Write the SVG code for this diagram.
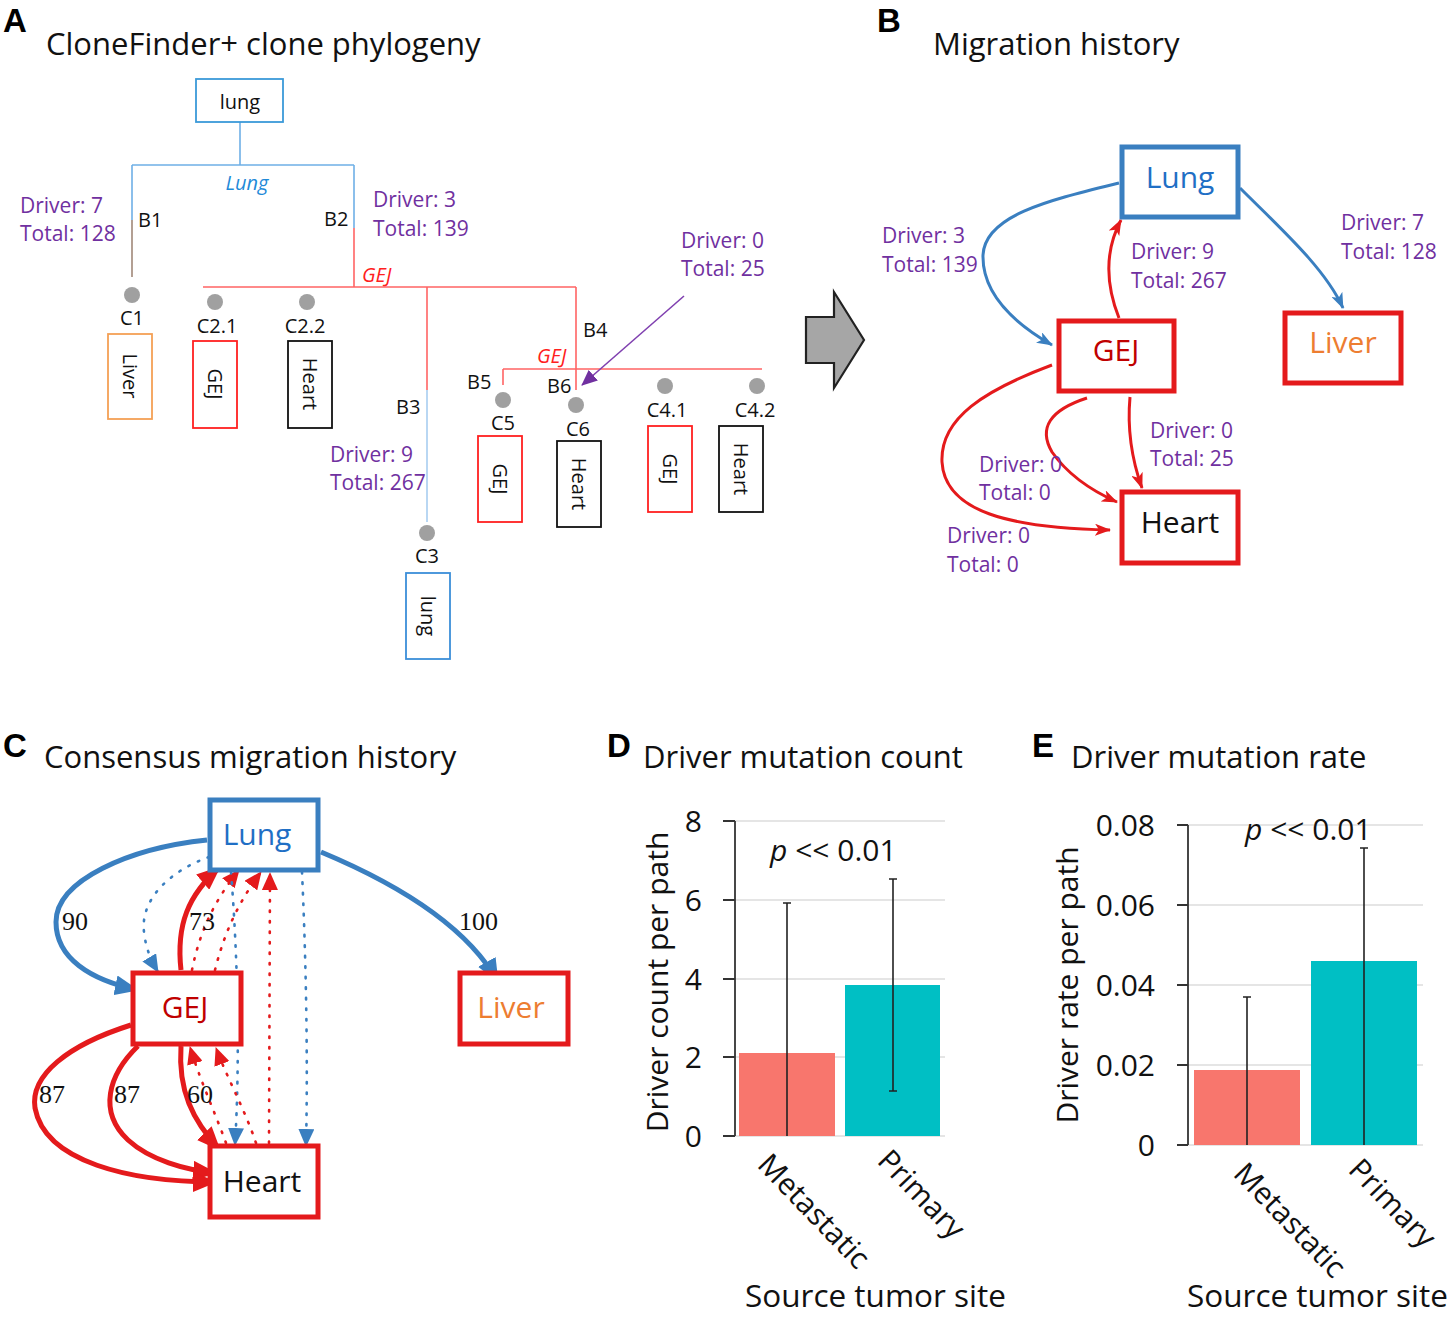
<svg xmlns="http://www.w3.org/2000/svg" width="1452" height="1318" viewBox="0 0 1452 1318">
<style>
text{font-family:'Open Sans','Liberation Sans',sans-serif;}
.L{font-family:'Liberation Sans',Arial,sans-serif;font-weight:bold;font-size:33px;fill:#000;}
.ttl{font-size:31px;fill:#111;}
.pl{font-size:21px;fill:#7030a0;}
.bl{font-size:20px;fill:#111;}
.bx{font-size:20px;fill:#111;}
.tb{fill:none;stroke-width:1.8;}
.tl{fill:none;stroke-width:1.6;}
.dot{fill:#a0a0a0;}
.nb{fill:#fff;stroke-width:5;}
.nt{font-size:30px;text-anchor:middle;}
.eB{fill:none;stroke-width:3;}
.eC{fill:none;stroke-width:5;}
.dC{fill:none;stroke-width:2.6;stroke-dasharray:1.5 9;stroke-linecap:round;}
.num{font-family:'Liberation Serif','Times New Roman',serif;font-size:26px;fill:#111;}
.ax{stroke:#333;stroke-width:1.8;fill:none;}
.gr{stroke:#ddd;stroke-width:1.6;}
.tk{font-size:30px;fill:#111;text-anchor:end;}
.eb{stroke:#222;stroke-width:1.6;fill:none;}
.cl{font-size:30px;fill:#111;}
.src{font-size:31.5px;fill:#111;}
</style>
<defs>
<marker id="aBb" markerUnits="userSpaceOnUse" markerWidth="16" markerHeight="12" viewBox="0 0 16 12" refX="15" refY="6" orient="auto"><path d="M0,0 L16,6 L0,12 L4,6 z" fill="#3a7fc0"/></marker>
<marker id="aBr" markerUnits="userSpaceOnUse" markerWidth="16" markerHeight="12" viewBox="0 0 16 12" refX="15" refY="6" orient="auto"><path d="M0,0 L16,6 L0,12 L4,6 z" fill="#e41a1c"/></marker>
<marker id="aCb" markerUnits="userSpaceOnUse" markerWidth="24" markerHeight="20" viewBox="0 0 24 20" refX="23" refY="10" orient="auto"><path d="M0,0 L24,10 L0,20 z" fill="#3a7fc0"/></marker>
<marker id="aCr" markerUnits="userSpaceOnUse" markerWidth="24" markerHeight="20" viewBox="0 0 24 20" refX="23" refY="10" orient="auto"><path d="M0,0 L24,10 L0,20 z" fill="#e41a1c"/></marker>
<marker id="aCbs" markerUnits="userSpaceOnUse" markerWidth="18" markerHeight="16" viewBox="0 0 18 16" refX="17" refY="8" orient="auto"><path d="M0,0 L18,8 L0,16 z" fill="#3a7fc0"/></marker>
<marker id="aCrs" markerUnits="userSpaceOnUse" markerWidth="18" markerHeight="16" viewBox="0 0 18 16" refX="17" refY="8" orient="auto"><path d="M0,0 L18,8 L0,16 z" fill="#e41a1c"/></marker>
<marker id="aP" markerUnits="userSpaceOnUse" markerWidth="16" markerHeight="14" viewBox="0 0 16 14" refX="15" refY="7" orient="auto"><path d="M0,0 L16,7 L0,14 z" fill="#7030a0"/></marker>
</defs>
<rect width="1452" height="1318" fill="#fff"/>

<!-- Panel letters and titles -->
<text class="L" x="3" y="32">A</text>
<text class="ttl" x="46" y="55">CloneFinder+ clone phylogeny</text>
<text class="L" x="877" y="32">B</text>
<text class="ttl" x="933" y="55">Migration history</text>
<text class="L" x="3" y="757">C</text>
<text class="ttl" x="44" y="768">Consensus migration history</text>
<text class="L" x="607" y="757">D</text>
<text class="ttl" x="643" y="768">Driver mutation count</text>
<text class="L" x="1032" y="757">E</text>
<text class="ttl" x="1071" y="768">Driver mutation rate</text>

<!-- Panel A: tree connectors -->
<g id="tree-connectors">
<path class="tl" stroke="#6fb0e6" d="M240,122 V165 M132,165 H354 M132,165 V220 M354,165 V228"/>
<path class="tl" stroke="#a08878" d="M132,220 V277"/>
<path class="tl" stroke="#ff6464" d="M354,228 V287 M203,287 H576 M576,287 V390 M427,287 V390 M503,369 H762 M503,369 V385"/>
<path class="tl" stroke="#a8cdf0" d="M427,390 V522"/>
<path stroke="#8040b0" stroke-width="1.6" fill="none" d="M684,296 L582,385" marker-end="url(#aP)"/>
</g>
<g id="tree-labels">
<text x="247" y="190" font-size="20" font-style="italic" fill="#1f8ad8" text-anchor="middle">Lung</text>
<text x="362" y="282" font-size="20" font-style="italic" fill="#ff2020">GEJ</text>
<text x="537" y="363" font-size="20" font-style="italic" fill="#ff2020">GEJ</text>
<text class="bl" x="138" y="227">B1</text>
<text class="bl" x="324" y="226">B2</text>
<text class="bl" x="396" y="414">B3</text>
<text class="bl" x="583" y="337">B4</text>
<text class="bl" x="467" y="389">B5</text>
<text class="bl" x="547" y="393">B6</text>
<text class="pl" x="20" y="213">Driver: 7</text>
<text class="pl" x="20" y="241">Total: 128</text>
<text class="pl" x="373" y="207">Driver: 3</text>
<text class="pl" x="373" y="236">Total: 139</text>
<text class="pl" x="330" y="462">Driver: 9</text>
<text class="pl" x="330" y="490">Total: 267</text>
<text class="pl" x="681" y="248">Driver: 0</text>
<text class="pl" x="681" y="276">Total: 25</text>
</g>
<g id="root-lung"><rect class="tb" stroke="#3b9ad9" x="196" y="79" width="87" height="43"/><text class="bx" x="240" y="109" text-anchor="middle">lung</text></g>
<g id="C1"><circle class="dot" cx="132" cy="295" r="8"/><text class="bl" x="132" y="325" text-anchor="middle">C1</text><rect class="tb" stroke="#f4a055" x="108" y="334" width="44" height="85"/><text class="bx" transform="translate(130,376) rotate(90)" text-anchor="middle" dy="0.35em">Liver</text></g>
<g id="C2.1"><circle class="dot" cx="215" cy="302" r="8"/><text class="bl" x="217" y="333" text-anchor="middle">C2.1</text><rect class="tb" stroke="#ff2020" x="193" y="341" width="44" height="87"/><text class="bx" transform="translate(215,384) rotate(90)" text-anchor="middle" dy="0.35em">GEJ</text></g>
<g id="C2.2"><circle class="dot" cx="307" cy="302" r="8"/><text class="bl" x="305" y="333" text-anchor="middle">C2.2</text><rect class="tb" stroke="#111" x="288" y="341" width="44" height="87"/><text class="bx" transform="translate(310,384) rotate(90)" text-anchor="middle" dy="0.35em">Heart</text></g>
<g id="C3"><circle class="dot" cx="427" cy="533" r="8"/><text class="bl" x="427" y="563" text-anchor="middle">C3</text><rect class="tb" stroke="#3b8ed9" x="406" y="573" width="44" height="86"/><text class="bx" transform="translate(428,616) rotate(90)" text-anchor="middle" dy="0.35em">lung</text></g>
<g id="C5"><circle class="dot" cx="503" cy="400" r="8"/><text class="bl" x="503" y="430" text-anchor="middle">C5</text><rect class="tb" stroke="#ff2020" x="478" y="436" width="44" height="86"/><text class="bx" transform="translate(500,479) rotate(90)" text-anchor="middle" dy="0.35em">GEJ</text></g>
<g id="C6"><circle class="dot" cx="576" cy="405" r="8"/><text class="bl" x="578" y="436" text-anchor="middle">C6</text><rect class="tb" stroke="#111" x="557" y="441" width="44" height="86"/><text class="bx" transform="translate(579,484) rotate(90)" text-anchor="middle" dy="0.35em">Heart</text></g>
<g id="C4.1"><circle class="dot" cx="665" cy="386" r="8"/><text class="bl" x="667" y="417" text-anchor="middle">C4.1</text><rect class="tb" stroke="#ff2020" x="648" y="426" width="44" height="86"/><text class="bx" transform="translate(670,469) rotate(90)" text-anchor="middle" dy="0.35em">GEJ</text></g>
<g id="C4.2"><circle class="dot" cx="757" cy="386" r="8"/><text class="bl" x="755" y="417" text-anchor="middle">C4.2</text><rect class="tb" stroke="#111" x="719" y="426" width="44" height="86"/><text class="bx" transform="translate(741,469) rotate(90)" text-anchor="middle" dy="0.35em">Heart</text></g>

<!-- big gray arrow -->
<g id="block-arrow"><polygon points="806,317 834,317 834,292 864,340 834,388 834,363 806,363" fill="#a6a6a6" stroke="#222" stroke-width="2.2" stroke-linejoin="miter"/></g>

<!-- Panel B connectors -->
<g id="B-connectors">
<path class="eB" stroke="#3a7fc0" d="M1119,183 C1050,200 985,215 983,255 C982,292 1012,322 1052,345" marker-end="url(#aBb)"/>
<path class="eB" stroke="#3a7fc0" d="M1240,188 C1280,228 1325,268 1343,308" marker-end="url(#aBb)"/>
<path class="eB" stroke="#e41a1c" d="M1119,318 C1106,285 1104,252 1121,220" marker-end="url(#aBr)"/>
<path class="eB" stroke="#e41a1c" d="M1130,397 C1127,430 1132,460 1142,488" marker-end="url(#aBr)"/>
<path class="eB" stroke="#e41a1c" d="M1087,398 C1050,410 1038,428 1052,452 C1068,475 1090,490 1117,502" marker-end="url(#aBr)"/>
<path class="eB" stroke="#e41a1c" d="M1052,365 C985,390 940,418 942,462 C945,512 1010,528 1110,530" marker-end="url(#aBr)"/>
</g>
<g id="B-labels">
<text class="pl" x="882" y="243">Driver: 3</text>
<text class="pl" x="882" y="272">Total: 139</text>
<text class="pl" x="1131" y="259">Driver: 9</text>
<text class="pl" x="1131" y="288">Total: 267</text>
<text class="pl" x="1341" y="230">Driver: 7</text>
<text class="pl" x="1341" y="259">Total: 128</text>
<text class="pl" x="1150" y="438">Driver: 0</text>
<text class="pl" x="1150" y="466">Total: 25</text>
<text class="pl" x="979" y="472">Driver: 0</text>
<text class="pl" x="979" y="500">Total: 0</text>
<text class="pl" x="947" y="543">Driver: 0</text>
<text class="pl" x="947" y="572">Total: 0</text>
</g>
<g id="B-Lung"><rect class="nb" stroke="#3a7fc0" x="1122" y="147" width="116" height="70"/><text class="nt" x="1180" y="188" fill="#1f6fc5">Lung</text></g>
<g id="B-GEJ"><rect class="nb" stroke="#e41a1c" x="1059" y="321" width="115" height="70"/><text class="nt" x="1116" y="361" fill="#c00000">GEJ</text></g>
<g id="B-Liver"><rect class="nb" stroke="#e41a1c" x="1285" y="313" width="116" height="70"/><text class="nt" x="1343" y="353" fill="#ed7d31">Liver</text></g>
<g id="B-Heart"><rect class="nb" stroke="#e41a1c" x="1122" y="492" width="116" height="71"/><text class="nt" x="1180" y="533" fill="#111">Heart</text></g>

<!-- Panel C connectors -->
<g id="C-connectors">
<path class="eC" stroke="#3a7fc0" d="M207,840 C130,848 56,880 56,922 C56,958 90,980 138,990" marker-end="url(#aCb)"/>
<path class="eC" stroke="#3a7fc0" d="M321,852 C400,885 468,928 498,982" marker-end="url(#aCb)"/>
<path class="dC" stroke="#3a7fc0" d="M209,857 C172,870 140,898 144,932 C146,950 152,962 158,972" marker-end="url(#aCbs)"/>
<path class="eC" stroke="#e41a1c" d="M181,970 C176,925 188,895 220,867" marker-end="url(#aCr)"/>
<path class="dC" stroke="#e41a1c" d="M192,970 C200,930 215,900 239,870" marker-end="url(#aCrs)"/>
<path class="dC" stroke="#e41a1c" d="M215,970 C225,930 240,900 261,872" marker-end="url(#aCrs)"/>
<path class="dC" stroke="#e41a1c" d="M269,1143 L270,873" marker-end="url(#aCrs)"/>
<path class="dC" stroke="#3a7fc0" d="M231,872 C238,960 240,1060 235,1145" marker-end="url(#aCbs)"/>
<path class="dC" stroke="#3a7fc0" d="M302,872 C306,960 308,1060 306,1146" marker-end="url(#aCbs)"/>
<path class="eC" stroke="#e41a1c" d="M181,1046 C178,1090 192,1120 220,1150" marker-end="url(#aCr)"/>
<path class="dC" stroke="#e41a1c" d="M226,1143 C214,1110 200,1080 190,1047" marker-end="url(#aCrs)"/>
<path class="dC" stroke="#e41a1c" d="M256,1143 C245,1110 228,1080 216,1048" marker-end="url(#aCrs)"/>
<path class="eC" stroke="#e41a1c" d="M138,1046 C108,1075 98,1112 128,1140 C150,1160 185,1170 216,1173" marker-end="url(#aCr)"/>
<path class="eC" stroke="#e41a1c" d="M131,1025 C68,1045 30,1075 35,1108 C45,1162 130,1182 216,1182" marker-end="url(#aCr)"/>
</g>
<g id="C-labels">
<text class="num" x="62" y="930">90</text>
<text class="num" x="189" y="930">73</text>
<text class="num" x="459" y="930">100</text>
<text class="num" x="39" y="1103">87</text>
<text class="num" x="114" y="1103">87</text>
<text class="num" x="187" y="1103">60</text>
</g>
<g id="C-Lung"><rect class="nb" stroke="#3a7fc0" x="210" y="800" width="108" height="70"/><text class="nt" x="257" y="845" fill="#1f6fc5">Lung</text></g>
<g id="C-GEJ"><rect class="nb" stroke="#e41a1c" x="133" y="973" width="108" height="71"/><text class="nt" x="185" y="1018" fill="#c00000">GEJ</text></g>
<g id="C-Liver"><rect class="nb" stroke="#e41a1c" x="460" y="973" width="108" height="71"/><text class="nt" x="511" y="1018" fill="#ed7d31">Liver</text></g>
<g id="C-Heart"><rect class="nb" stroke="#e41a1c" x="210" y="1146" width="108" height="71"/><text class="nt" x="262" y="1192" fill="#111">Heart</text></g>

<!-- Panel D chart -->
<g id="D-chart">
<line class="gr" x1="735" y1="821" x2="945" y2="821"/>
<line class="gr" x1="735" y1="900" x2="945" y2="900"/>
<line class="gr" x1="735" y1="979" x2="945" y2="979"/>
<line class="gr" x1="735" y1="1057" x2="945" y2="1057"/>
<line class="gr" x1="735" y1="1136" x2="945" y2="1136"/>
<rect x="739" y="1053" width="96" height="83" fill="#f8766d"/>
<rect x="845" y="985" width="95" height="151" fill="#00bfc4"/>
<path class="ax" d="M735,821 V1136 M723,821 H735 M723,900 H735 M723,979 H735 M723,1057 H735 M723,1136 H735"/>
<path class="eb" d="M787,1136 V903 M783,903 H791 M893,1091 V879 M889,879 H897 M889,1091 H897"/>
<text class="tk" x="702" y="832">8</text>
<text class="tk" x="702" y="911">6</text>
<text class="tk" x="702" y="990">4</text>
<text class="tk" x="702" y="1068">2</text>
<text class="tk" x="702" y="1147">0</text>
<text class="cl" x="770" y="861"><tspan font-style="italic">p</tspan> &lt;&lt; 0.01</text>
<text class="cl" transform="translate(668,982) rotate(-90)" text-anchor="middle">Driver count per path</text>
<text class="cl" transform="translate(756,1166) rotate(46)">Metastatic</text>
<text class="cl" transform="translate(876,1162) rotate(46)">Primary</text>
<text class="src" x="745" y="1307">Source tumor site</text>
</g>

<!-- Panel E chart -->
<g id="E-chart">
<line class="gr" x1="1188" y1="825" x2="1423" y2="825"/>
<line class="gr" x1="1188" y1="905" x2="1423" y2="905"/>
<line class="gr" x1="1188" y1="985" x2="1423" y2="985"/>
<line class="gr" x1="1188" y1="1065" x2="1423" y2="1065"/>
<line class="gr" x1="1188" y1="1145" x2="1423" y2="1145"/>
<rect x="1194" y="1070" width="106" height="75" fill="#f8766d"/>
<rect x="1311" y="961" width="106" height="184" fill="#00bfc4"/>
<path class="ax" d="M1188,825 V1145 M1177,825 H1188 M1177,905 H1188 M1177,985 H1188 M1177,1065 H1188 M1177,1145 H1188"/>
<path class="eb" d="M1247,1145 V997 M1243,997 H1251 M1364,1145 V848 M1360,848 H1368"/>
<text class="tk" x="1155" y="836">0.08</text>
<text class="tk" x="1155" y="916">0.06</text>
<text class="tk" x="1155" y="996">0.04</text>
<text class="tk" x="1155" y="1076">0.02</text>
<text class="tk" x="1155" y="1156">0</text>
<text class="cl" x="1245" y="840"><tspan font-style="italic">p</tspan> &lt;&lt; 0.01</text>
<text class="cl" transform="translate(1078,985) rotate(-90)" text-anchor="middle">Driver rate per path</text>
<text class="cl" transform="translate(1232,1175) rotate(46)">Metastatic</text>
<text class="cl" transform="translate(1347,1171) rotate(46)">Primary</text>
<text class="src" x="1187" y="1307">Source tumor site</text>
</g>
</svg>
